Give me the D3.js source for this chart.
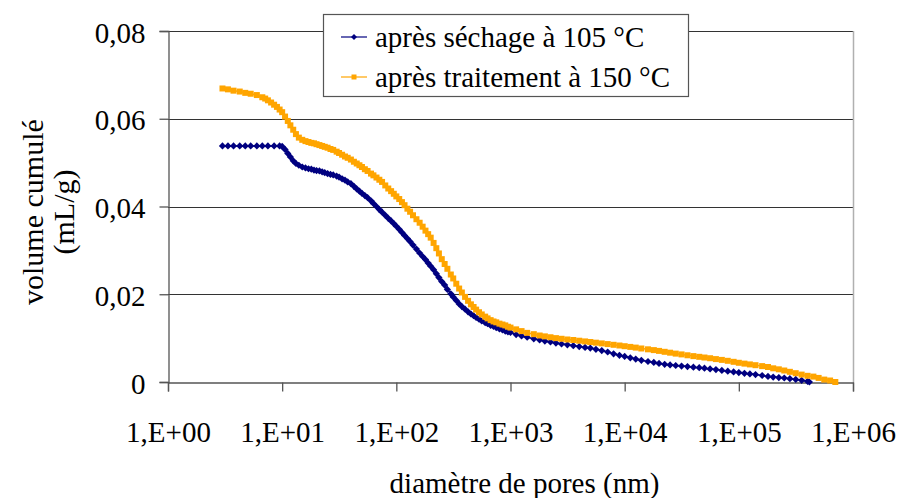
<!DOCTYPE html>
<html>
<head>
<meta charset="utf-8">
<script src="https://cdn.jsdelivr.net/npm/d3@7"></script>
<style>
  html, body { margin: 0; padding: 0; background: #fff; }
  svg { display: block; }
  svg text { font-family: "Liberation Serif", "Times New Roman", Times, serif !important; fill: #000; }
</style>
</head>
<body>
<svg id="chart" width="900" height="498"></svg>
<script>
// ---- Data (pore diameter in nm, cumulative volume in mL/g) ----
const seriesNames = ["après séchage à 105 °C", "après traitement à 150 °C"];

const diam105 = [3.0, 3.35, 3.75, 4.25, 4.75, 5.3, 6.0, 6.7, 7.5, 8.5, 9.5,
  10, 10.6, 11.2, 11.8, 12.5, 13.2, 14, 15, 16, 17, 18, 19,
  20, 21.2, 22.4, 23.6, 25, 26.5, 28, 30, 31.5, 33.5, 35.5, 37.5,
  40, 42.5, 45, 47.5, 50, 53, 56, 60, 63, 67, 71, 75, 80, 85, 90, 95,
  100, 106, 112, 118, 125, 132, 140, 150, 160, 170, 180, 190,
  200, 212, 224, 236, 250, 265, 280, 300, 315, 335, 355, 375,
  400, 425, 450, 475, 500, 530, 560, 600, 630, 670, 710, 750, 800, 850, 900, 950,
  1000, 1120, 1250, 1400, 1600, 1800, 2000, 2240, 2500, 2800, 3150, 3550, 4000, 4500, 5000, 5600, 6300, 7100, 8000, 9000,
  10000, 11200, 12500, 14000, 16000, 18000, 20000, 22400, 25000, 28000, 31500, 35500, 40000, 45000, 50000, 56000, 63000, 71000, 80000, 90000,
  100000, 112000, 125000, 140000, 160000, 180000, 200000, 224000, 250000, 280000, 315000, 355000, 400000, 415000];
const vol105 = [0.0538, 0.0538, 0.0538, 0.0538, 0.0538, 0.0538, 0.0538, 0.0538, 0.0538, 0.0538, 0.0538,
  0.0537, 0.0530, 0.0521, 0.0513, 0.0504, 0.0498, 0.0494, 0.0490, 0.0488, 0.0486, 0.0485, 0.0483,
  0.0482, 0.0481, 0.0479, 0.0477, 0.0475, 0.0473, 0.0472, 0.0469, 0.0467, 0.0463, 0.0460, 0.0456,
  0.0452, 0.0446, 0.0440, 0.0435, 0.0430, 0.0425, 0.0420, 0.0413, 0.0407, 0.0400, 0.0393, 0.0387, 0.0380, 0.0373, 0.0367, 0.0361,
  0.0355, 0.0348, 0.0341, 0.0334, 0.0327, 0.0320, 0.0312, 0.0303, 0.0294, 0.0286, 0.0279, 0.0271,
  0.0264, 0.0256, 0.0247, 0.0238, 0.0229, 0.0221, 0.0211, 0.0201, 0.0194, 0.0186, 0.0178, 0.0172,
  0.0166, 0.0160, 0.0155, 0.0151, 0.0147, 0.0143, 0.0139, 0.0135, 0.0133, 0.0129, 0.0127, 0.0124, 0.0121, 0.0119, 0.0116, 0.0114,
  0.0113, 0.0108, 0.0105, 0.0102, 0.00985, 0.0096, 0.00934, 0.00912, 0.00887, 0.00866, 0.00848, 0.00827, 0.00807, 0.00789, 0.00773, 0.00745, 0.00716, 0.00684, 0.00643, 0.00609,
  0.00583, 0.00552, 0.00522, 0.00495, 0.00467, 0.00447, 0.00424, 0.00403, 0.0039, 0.00376, 0.00362, 0.00351, 0.00337, 0.00326, 0.00315, 0.00299, 0.00283, 0.00264, 0.00246, 0.0023,
  0.00214, 0.00198, 0.00185, 0.00169, 0.00148, 0.00128, 0.00112, 0.0010, 0.00091, 0.00075, 0.00059, 0.00039, 0.00016, 0];

const diam150 = [3.0, 3.35, 3.75, 4.25, 4.75, 5.3, 6.0, 6.7, 7.1, 7.5, 8.0, 8.5, 9.0, 9.5,
  10, 10.6, 11.2, 11.8, 12.5, 13.2, 14, 15, 16, 17, 18, 19,
  20, 21.2, 22.4, 23.6, 25, 26.5, 28, 30, 31.5, 33.5, 35.5, 37.5,
  40, 42.5, 45, 47.5, 50, 53, 56, 60, 63, 67, 71, 75, 80, 85, 90, 95,
  100, 106, 112, 118, 125, 132, 140, 150, 160, 170, 180, 190,
  200, 212, 224, 236, 250, 265, 280, 300, 315, 335, 355, 375,
  400, 425, 450, 475, 500, 530, 560, 600, 630, 670, 710, 750, 800, 850, 900, 950,
  1000, 1120, 1250, 1400, 1600, 1800, 2000, 2240, 2500, 2800, 3150, 3550, 4000, 4500, 5000, 5600, 6300, 7100, 8000, 9000,
  10000, 11200, 12500, 14000, 16000, 18000, 20000, 22400, 25000, 28000, 31500, 35500, 40000, 45000, 50000, 56000, 63000, 71000, 80000, 90000,
  100000, 112000, 125000, 140000, 160000, 180000, 200000, 224000, 250000, 280000, 315000, 355000, 400000, 450000, 500000, 560000, 630000, 700000];
const vol150 = [0.0669, 0.0667, 0.0664, 0.0662, 0.0659, 0.0657, 0.0654, 0.0649, 0.0646, 0.0642, 0.0637, 0.0632, 0.0627, 0.0621,
  0.0615, 0.0605, 0.0595, 0.0585, 0.0575, 0.0565, 0.0557, 0.0552, 0.0549, 0.0547, 0.0545, 0.0544,
  0.0542, 0.0540, 0.0538, 0.0536, 0.0534, 0.0531, 0.0529, 0.0525, 0.0522, 0.0518, 0.0514, 0.0511,
  0.0507, 0.0502, 0.0498, 0.0494, 0.0490, 0.0485, 0.0481, 0.0475, 0.0471, 0.0466, 0.0461, 0.0456, 0.0448, 0.0441, 0.0435, 0.0429,
  0.0423, 0.0417, 0.0410, 0.0403, 0.0395, 0.0388, 0.0380, 0.0371, 0.0363, 0.0354, 0.0345, 0.0337,
  0.0329, 0.0317, 0.0305, 0.0293, 0.0280, 0.0269, 0.0258, 0.0245, 0.0236, 0.0224, 0.0213, 0.0204,
  0.0194, 0.0185, 0.0177, 0.0171, 0.0165, 0.0159, 0.0154, 0.0149, 0.0145, 0.0141, 0.0138, 0.0136, 0.0133, 0.0131, 0.0129, 0.0126,
  0.0124, 0.0120, 0.0116, 0.0112, 0.0109, 0.0106, 0.0104, 0.0102, 0.0100, 0.00985, 0.00969, 0.00957, 0.00941, 0.00925, 0.00912, 0.00896, 0.00880, 0.00864, 0.00848, 0.00832,
  0.00816, 0.00800, 0.00784, 0.00764, 0.00745, 0.00727, 0.00709, 0.00688, 0.00668, 0.00647, 0.00629, 0.00609, 0.00590, 0.00574, 0.00558, 0.00542, 0.00522, 0.00504, 0.00483, 0.00460,
  0.00438, 0.00419, 0.00401, 0.00383, 0.00362, 0.00342, 0.00312, 0.00289, 0.00262, 0.00232, 0.00201, 0.00169, 0.00141, 0.00123, 0.00093, 0.00055, 0.00034, 0];

const yTicks = [0, 0.02, 0.04, 0.06, 0.08];
const yTickLabels = ["0", "0,02", "0,04", "0,06", "0,08"];
const xTicks = [1, 10, 100, 1000, 10000, 100000, 1000000];
const xTickLabels = ["1,E+00", "1,E+01", "1,E+02", "1,E+03", "1,E+04", "1,E+05", "1,E+06"];
const xTitle = "diamètre de pores (nm)";
const yTitle1 = "volume cumulé";
const yTitle2 = "(mL/g)";

// ---- Layout ----
const plot = { left: 168, right: 853, top: 31, bottom: 382 };
const colors = ["#000080", "#FFA500"];
const FS = 29;
const FONT = "'Liberation Serif', 'Times New Roman', Times, serif";

const svg = d3.select("#chart");
const x = d3.scaleLog().domain([1, 1e6]).range([plot.left, plot.right]);
const y = d3.scaleLinear().domain([0, 0.08]).range([plot.bottom, plot.top]);

// gridlines
svg.append("g").selectAll("line").data(yTicks.filter(d => d > 0)).join("line")
  .attr("x1", plot.left).attr("x2", plot.right)
  .attr("y1", d => Math.round(y(d)) + 0.5).attr("y2", d => Math.round(y(d)) + 0.5)
  .attr("stroke", "#333").attr("stroke-width", 1);

// right border of plot area
svg.append("line")
  .attr("x1", plot.right + 0.5).attr("x2", plot.right + 0.5)
  .attr("y1", plot.top).attr("y2", plot.bottom)
  .attr("stroke", "#b0b0b0").attr("stroke-width", 1.5);

// Y axis
const yAxis = d3.axisLeft(y).tickValues(yTicks).tickSize(9).tickPadding(14)
  .tickFormat((d, i) => yTickLabels[i]);
const gy = svg.append("g").attr("transform", `translate(${plot.left + 0.5},0)`).call(yAxis)
  .attr("font-family", null).attr("font-size", null);
gy.select(".domain").attr("stroke", "#555").attr("stroke-width", 1.3);
gy.selectAll(".tick line").attr("stroke", "#555").attr("stroke-width", 1.3);
gy.selectAll(".tick text").style("font-size", FS + "px").style("font-family", FONT)
  .attr("fill", "#000").attr("dy", null).attr("y", 11);

// X axis
const xAxis = d3.axisBottom(x).tickValues(xTicks).tickSize(9).tickPadding(14)
  .tickFormat((d, i) => xTickLabels[i]);
const gx = svg.append("g").attr("transform", `translate(0,${plot.bottom + 0.5})`).call(xAxis)
  .attr("font-family", null).attr("font-size", null);
gx.select(".domain").attr("stroke", "#555").attr("stroke-width", 1.3);
gx.selectAll(".tick line").attr("stroke", "#555").attr("stroke-width", 1.3);
gx.selectAll(".tick text").style("font-size", FS + "px").style("font-family", FONT)
  .attr("fill", "#000").attr("dy", null).attr("y", 59);

// Axis titles
svg.append("text").attr("x", (plot.left + plot.right) / 2 + 14).attr("y", 493)
  .attr("text-anchor", "middle").style("font-size", FS + "px").style("font-family", FONT).text(xTitle);

svg.append("text")
  .attr("transform", "translate(43,305) rotate(-90)")
  .attr("text-anchor", "start").style("font-size", (FS + 1) + "px").style("font-family", FONT).text(yTitle1);
svg.append("text")
  .attr("transform", "translate(74,212) rotate(-90)")
  .attr("text-anchor", "middle").style("font-size", (FS + 1) + "px").style("font-family", FONT).text(yTitle2);

// symbols
const diamondSym = {
  draw(ctx, size) {
    const r = Math.sqrt(size / 2);
    ctx.moveTo(0, -r); ctx.lineTo(r, 0); ctx.lineTo(0, r); ctx.lineTo(-r, 0); ctx.closePath();
  }
};
const symbols = [d3.symbol(diamondSym, 26), d3.symbol(d3.symbolSquare, 36)];
const legendSymbols = [d3.symbol(diamondSym, 18), d3.symbol(d3.symbolSquare, 25)];

const series = [
  { name: seriesNames[0], d: diam105, v: vol105 },
  { name: seriesNames[1], d: diam150, v: vol150 }
];

const line = d3.line().x(p => x(p[0])).y(p => y(p[1]));

series.forEach((s, i) => {
  const pts = s.d.map((d, k) => [d, s.v[k]]);
  const g = svg.append("g");
  g.append("path").attr("d", line(pts)).attr("fill", "none")
    .attr("stroke", colors[i]).attr("stroke-width", 1.5);
  g.selectAll("path.pt").data(pts).join("path").attr("class", "pt")
    .attr("d", symbols[i])
    .attr("transform", p => `translate(${x(p[0])},${y(p[1])})`)
    .attr("fill", colors[i]);
});

// Legend
const lg = svg.append("g");
lg.append("rect").attr("x", 323.5).attr("y", 14.5).attr("width", 365).attr("height", 82)
  .attr("fill", "#fff").attr("stroke", "#555").attr("stroke-width", 1.2);
const rows = [37, 77];
series.forEach((s, i) => {
  lg.append("line").attr("x1", 341).attr("x2", 367).attr("y1", rows[i]).attr("y2", rows[i])
    .attr("stroke", colors[i]).attr("stroke-width", 1.2);
  lg.append("path").attr("d", legendSymbols[i]).attr("transform", `translate(354,${rows[i]})`)
    .attr("fill", colors[i]);
  lg.append("text").attr("x", 375).attr("y", rows[i] + 10)
    .style("font-size", FS + "px").style("font-family", FONT).text(s.name);
});
</script>
</body>
</html>
